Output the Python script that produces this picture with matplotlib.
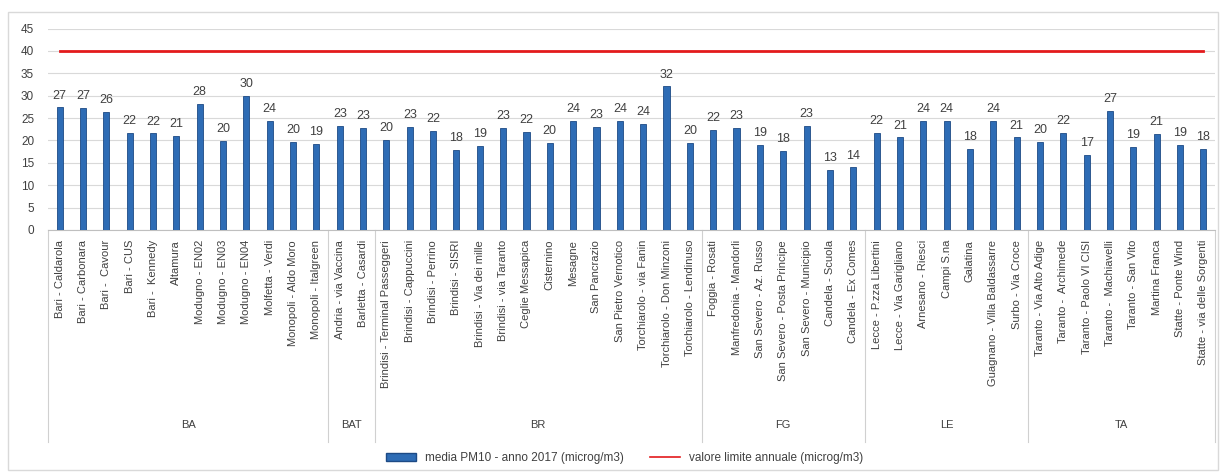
import matplotlib.pyplot as plt
from matplotlib.patches import Rectangle
from matplotlib.lines import Line2D
from matplotlib.transforms import blended_transform_factory

plt.rcParams['font.family'] = ['Liberation Sans', 'DejaVu Sans']

stations = ['Bari - Caldarola', 'Bari - Carbonara', 'Bari -  Cavour', 'Bari - CUS', 'Bari -  Kennedy',
            'Altamura', 'Modugno - EN02', 'Modugno - EN03', 'Modugno - EN04', 'Molfetta - Verdi',
            'Monopoli - Aldo Moro', 'Monopoli - Italgreen',
            'Andria - via Vaccina', 'Barletta - Casardi',
            'Brindisi - Terminal Passeggeri', 'Brindisi - Cappuccini', 'Brindisi - Perrino', 'Brindisi - SISRI',
            'Brindisi - Via dei mille', 'Brindisi - via Taranto', 'Ceglie Messapica', 'Cisternino', 'Mesagne',
            'San Pancrazio', 'San Pietro Vernotico', 'Torchiarolo - via Fanin', 'Torchiarolo - Don Minzoni',
            'Torchiarolo - Lendinuso',
            'Foggia - Rosati', 'Manfredonia - Mandorli', 'San Severo - Az. Russo', 'San Severo - Posta Principe',
            'San Severo - Municipio', 'Candela - Scuola', 'Candela - Ex Comes',
            'Lecce - P.zza Libertini', 'Lecce - Via Garigliano', 'Arnesano - Riesci', 'Campi S.na', 'Galatina',
            'Guagnano - Villa Baldassarre', 'Surbo - Via Croce',
            'Taranto - Via Alto Adige', 'Taranto -  Archimede', 'Taranto - Paolo VI CISI', 'Taranto -  Machiavelli',
            'Taranto - San Vito', 'Martina Franca', 'Statte - Ponte Wind', 'Statte - via delle Sorgenti']
pm10 = [27.4, 27.2, 26.4, 21.7, 21.6, 21.0, 28.1, 19.9, 29.9, 24.3, 19.7, 19.3,
        23.3, 22.8,
        20.1, 23.0, 22.1, 17.9, 18.8, 22.9, 21.9, 19.5, 24.3, 23.0, 24.4, 23.7, 32.1, 19.5,
        22.4, 22.9, 19.0, 17.6, 23.2, 13.4, 14.0,
        21.7, 20.7, 24.4, 24.4, 18.1, 24.4, 20.7,
        19.7, 21.7, 16.7, 26.6, 18.6, 21.4, 19.0, 18.1]
provinces = ['BA', 'BAT', 'BR', 'FG', 'LE', 'TA']
counts = [12, 2, 14, 7, 7, 8]
limit = 40

W, H = 1221, 473
fig = plt.figure(figsize=(W / 100, H / 100), dpi=100)
fig.patches.append(Rectangle((8 / W, 1 - 470 / H), 1210 / W, 458 / H, transform=fig.transFigure,
                             fill=False, edgecolor='#d9d9d9', linewidth=1))
ax = fig.add_axes([48 / W, 1 - 230 / H, (1215 - 48) / W, (230 - 28.6) / H])

x = list(range(len(stations)))
ax.bar(x, pm10, width=0.26, color='#2e6cb5', edgecolor='#1d4a85', linewidth=0.6, zorder=3)
ax.plot(x, [limit] * len(x), color='#e31a1c', linewidth=2, zorder=4)
for xi, v in zip(x, pm10):
    ax.text(xi, v + 1.3, str(int(round(v))), ha='center', va='bottom', fontsize=9, color='#404040')

ax.set_xlim(-0.5, len(x) - 0.5)
ax.set_ylim(0, 45)
ax.set_yticks(range(0, 46, 5))
ax.tick_params(axis='y', length=0, labelsize=8.5, colors='#404040', pad=10)
ax.set_xticks([])
ax.grid(axis='y', color='#d9d9d9', linewidth=0.8, zorder=0)
for s in ['left', 'right', 'top']:
    ax.spines[s].set_visible(False)
ax.spines['bottom'].set_color('#bfbfbf')

tr = blended_transform_factory(ax.transData, fig.transFigure)
for xi, name in zip(x, stations):
    ax.text(xi, 1 - 240 / H, name, transform=tr, rotation=90, ha='center', va='top',
            fontsize=8, color='#404040')

start = 0
bounds = [-0.5]
for prov, n in zip(provinces, counts):
    ax.text(start + (n - 1) / 2, 1 - 425 / H, prov, transform=tr, ha='center', va='center',
            fontsize=8, color='#404040')
    start += n
    bounds.append(start - 0.5)
for b in bounds:
    ax.add_line(Line2D([b, b], [1 - 230 / H, 1 - 442 / H], transform=tr, color='#d0d0d0',
                       linewidth=0.8, clip_on=False))

handles = [Rectangle((0, 0), 1, 1, facecolor='#2e6cb5', edgecolor='#1d4a85'),
           Line2D([0], [0], color='#e31a1c', linewidth=1.2)]
fig.legend(handles, ['media PM10 - anno 2017 (microg/m3)', 'valore limite annuale (microg/m3)'],
           loc='center', bbox_to_anchor=(625 / W, 1 - 458 / H), ncol=2, frameon=False,
           fontsize=8.5, handlelength=2.5, handleheight=0.6, columnspacing=2.2, labelcolor='#404040')

fig.savefig('out.png', dpi=100)
